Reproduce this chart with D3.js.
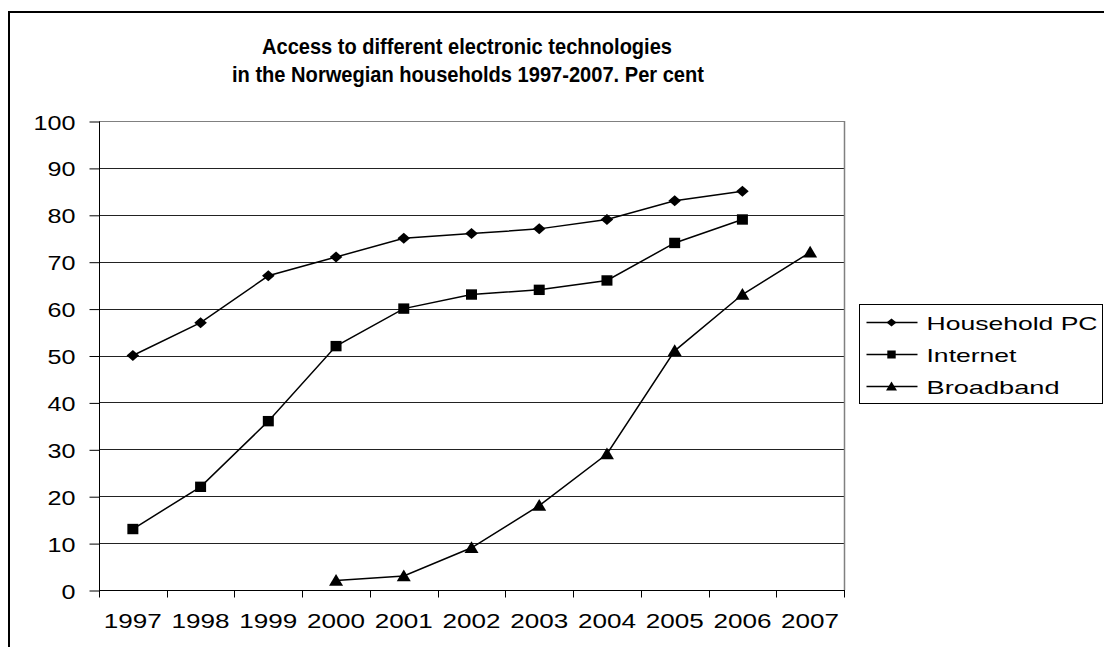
<!DOCTYPE html>
<html>
<head>
<meta charset="utf-8">
<script src="https://cdn.jsdelivr.net/npm/d3@7"></script>
<style>
  body { margin: 0; background: #fff; }
  text { font-family: "Liberation Sans", Arial, sans-serif; }
</style>
</head>
<body>
<div id="container"></div>
<script>
/* CONSTANTS AND GLOBALS */
const width = 1104,
  height = 647,
  margin = {top: 121, left: 99, bottom: 57, right: 260};

/* DATA */
const years = ["1997", "1998", "1999", "2000", "2001", "2002", "2003", "2004", "2005", "2006", "2007"];
const householdPC = [50, 57, 67, 71, 75, 76, 77, 79, 83, 85, null];
const internet = [13, 22, 36, 52, 60, 63, 64, 66, 74, 79, null];
const broadband = [null, null, null, 2, 3, 9, 18, 29, 51, 63, 72];
const yTicks = [0, 10, 20, 30, 40, 50, 60, 70, 80, 90, 100];
const seriesNames = ["Household PC", "Internet", "Broadband"];

// marker shapes (wider than tall, like the original)
const diamond = (w, h) => `M${-w},0L0,${-h}L${w},0L0,${h}Z`;
const square = (w, h) => `M${-w},${-h}H${w}V${h}H${-w}Z`;
const triangle = (w, h) => `M0,${-h}L${w},${h * 0.8}H${-w}Z`;

const series = [
  {name: seriesNames[0], values: householdPC, shape: diamond(6.3, 5.5), legendShape: diamond(5, 4)},
  {name: seriesNames[1], values: internet, shape: square(5.5, 5.2), legendShape: square(4.2, 4)},
  {name: seriesNames[2], values: broadband, shape: triangle(7, 6.5), legendShape: triangle(5.5, 5)}
];
const legendWidths = [171, 90, 133];

// SCALES
const xScale = d3.scaleBand()
  .domain(years)
  .range([margin.left, width - margin.right])

const yScale = d3.scaleLinear()
  .domain([0, 100])
  .range([height - margin.bottom, margin.top])

// CREATE SVG ELEMENT
const svg = d3.select("#container")
  .append("svg")
  .attr("width", width)
  .attr("height", height)

// outer chart frame
svg.append("rect")
  .attr("x", 9)
  .attr("y", 12)
  .attr("width", width + 10)
  .attr("height", height + 10)
  .attr("fill", "none")
  .attr("stroke", "#000")
  .attr("stroke-width", 2)

// TITLE
svg.append("text")
  .attr("x", 467)
  .attr("y", 54)
  .attr("text-anchor", "middle")
  .attr("font-size", 22)
  .attr("font-weight", "bold")
  .attr("textLength", 410)
  .attr("lengthAdjust", "spacingAndGlyphs")
  .text("Access to different electronic technologies")
svg.append("text")
  .attr("x", 468)
  .attr("y", 82)
  .attr("text-anchor", "middle")
  .attr("font-size", 22)
  .attr("font-weight", "bold")
  .attr("textLength", 472)
  .attr("lengthAdjust", "spacingAndGlyphs")
  .text("in the Norwegian households 1997-2007. Per cent")

// GRIDLINES
svg.append("g")
  .selectAll("line")
  .data(yTicks.filter(d => d > 0))
  .join("line")
  .attr("x1", margin.left)
  .attr("x2", width - margin.right)
  .attr("y1", d => Math.round(yScale(d)) + 0.5)
  .attr("y2", d => Math.round(yScale(d)) + 0.5)
  .attr("stroke", d => d === 100 ? "#808080" : "#222")

// right border of plot area
svg.append("line")
  .attr("x1", width - margin.right + 0.5)
  .attr("x2", width - margin.right + 0.5)
  .attr("y1", yScale(100))
  .attr("y2", yScale(0))
  .attr("stroke", "#808080")
  .attr("stroke-width", 1.5)

// BUILD AND CALL AXES
const yAxis = d3.axisLeft(yScale)
  .tickValues(yTicks)
  .tickSize(10)
  .tickPadding(14)

svg.append("g")
  .attr("transform", `translate(${margin.left + 0.5},0.5)`)
  .call(yAxis)
  .call(g => g.select(".domain").attr("d", `M0,${yScale(0)}V${yScale(100)}`))
  .call(g => g.selectAll("text")
    .attr("font-size", 19.5)
    .attr("font-family", "Liberation Sans, Arial, sans-serif")
    .attr("fill", "#000")
    .attr("dy", 7.5)
    .attr("textLength", d => String(d).length * 14)
    .attr("lengthAdjust", "spacingAndGlyphs"))

// x axis: ticks between categories
const xg = svg.append("g")
  .attr("transform", `translate(0,${Math.round(yScale(0)) + 0.5})`)
xg.append("line")
  .attr("x1", margin.left)
  .attr("x2", width - margin.right + 1)
  .attr("stroke", "#000")
xg.selectAll(".tick")
  .data(years.concat(["end"]))
  .join("line")
  .attr("class", "tick")
  .attr("x1", (d, i) => Math.round(margin.left + i * xScale.bandwidth()) + 0.5)
  .attr("x2", (d, i) => Math.round(margin.left + i * xScale.bandwidth()) + 0.5)
  .attr("y1", 0)
  .attr("y2", 7)
  .attr("stroke", "#000")
xg.selectAll(".label")
  .data(years)
  .join("text")
  .attr("class", "label")
  .attr("x", d => xScale(d) + xScale.bandwidth() / 2 - 29)
  .attr("y", 37)
  .attr("font-size", 19.5)
  .attr("textLength", 58)
  .attr("lengthAdjust", "spacingAndGlyphs")
  .text(d => d)

// LINE GENERATOR FUNCTION
const lineGen = d3.line()
  .defined(d => d != null)
  .x((d, i) => xScale(years[i]) + xScale.bandwidth() / 2)
  .y(d => yScale(d))

// DRAW LINES
svg.selectAll(".line")
  .data(series)
  .join("path")
  .attr("class", "line")
  .attr("d", s => lineGen(s.values))
  .attr("stroke", "black")
  .attr("stroke-width", 1.5)
  .attr("fill", "none")

// DRAW MARKERS
series.forEach(s => {
  svg.append("g")
    .selectAll("path")
    .data(years.map((y, i) => ({year: y, value: s.values[i]})).filter(d => d.value != null))
    .join("path")
    .attr("transform", d => `translate(${xScale(d.year) + xScale.bandwidth() / 2},${yScale(d.value)})`)
    .attr("d", s.shape)
    .attr("fill", "black")
})

// LEGEND
const legend = svg.append("g")
  .attr("transform", "translate(859.5,304.5)")
legend.append("rect")
  .attr("width", 243)
  .attr("height", 99)
  .attr("fill", "#fff")
  .attr("stroke", "#000")

const entry = legend.selectAll(".entry")
  .data(series)
  .join("g")
  .attr("class", "entry")
  .attr("transform", (d, i) => `translate(0,${18 + i * 32})`)
entry.append("line")
  .attr("x1", 7)
  .attr("x2", 58)
  .attr("stroke", "#000")
  .attr("stroke-width", 1.5)
entry.append("path")
  .attr("transform", "translate(32,0)")
  .attr("d", d => d.legendShape)
  .attr("fill", "#000")
entry.append("text")
  .attr("x", 67)
  .attr("y", 7)
  .attr("font-size", 19)
  .attr("textLength", (d, i) => legendWidths[i])
  .attr("lengthAdjust", "spacingAndGlyphs")
  .text(d => d.name)
</script>
</body>
</html>
